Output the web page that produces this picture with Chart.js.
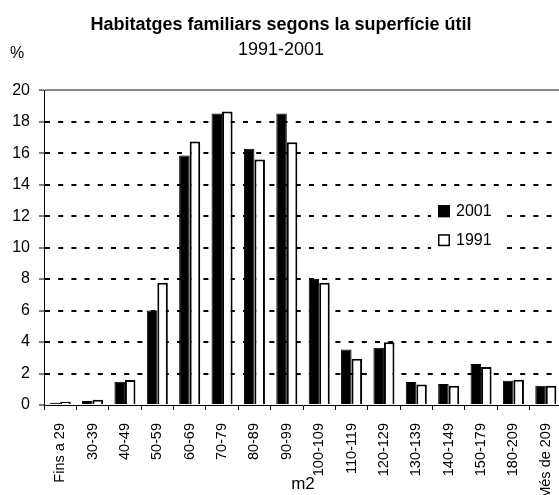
<!DOCTYPE html>
<html>
<head>
<meta charset="utf-8">
<title>Habitatges familiars segons la superfície útil</title>
<script src="https://cdn.jsdelivr.net/npm/chart.js@4.4.0/dist/chart.umd.min.js"></script>
<style>
    html, body { margin: 0; padding: 0; background: #fff; overflow: hidden; }
    #wrap { width: 559px; height: 495px; overflow: hidden; }
</style>
</head>
<body>
<div id="wrap"><canvas id="chartSuperficie" width="570" height="495"></canvas></div>
<script>
const FONT = "'Liberation Sans', Arial, sans-serif";

// Trams de superfície útil (m2)
const labels = [
    "Fins a 29", "30-39", "40-49", "50-59", "60-69", "70-79", "80-89", "90-99",
    "100-109", "110-119", "120-129", "130-139", "140-149", "150-179", "180-209", "Més de 209"
];

// Percentatge d'habitatges per tram
const data2001 = [0.15, 0.25, 1.48, 6.0, 15.85, 18.52, 16.28, 18.52, 8.0, 3.53, 3.64, 1.46, 1.33, 2.6, 1.54, 1.23];
const data1991 = [0.2, 0.33, 1.59, 7.77, 16.74, 18.65, 15.6, 16.7, 7.77, 2.94, 3.98, 1.31, 1.23, 2.41, 1.61, 1.23];

// Eix Y
const yMin = 0;
const yMax = 20;
const yStep = 2;

// Llegenda dins l'àrea del gràfic, amb fons blanc que talla la graella
const legendInside = {
    id: "legendInside",
    afterDraw(chart) {
        const { ctx, chartArea } = chart;
        const x = chartArea.right - 124;
        const y0 = chartArea.top + 115;
        ctx.save();
        ctx.fillStyle = "#fff";
        ctx.fillRect(x - 7, y0 - 7, 74, 56);
        chart.data.datasets.forEach((ds, i) => {
            const y = y0 + i * 29;
            ctx.fillStyle = ds.backgroundColor;
            ctx.fillRect(x, y, 12, 12);
            ctx.strokeStyle = "#000";
            ctx.lineWidth = 1.5;
            ctx.strokeRect(x + 0.75, y + 0.75, 10.5, 10.5);
            ctx.fillStyle = "#000";
            ctx.font = "16px " + FONT;
            ctx.textBaseline = "middle";
            ctx.textAlign = "left";
            ctx.fillText(ds.label, x + 18, y + 6);
        });
        // unitat de l'eix Y
        ctx.fillText("%", 10, 54);
        ctx.restore();
    }
};

new Chart(document.getElementById("chartSuperficie"), {
    type: "bar",
    data: {
        labels,
        datasets: [
            { label: "2001", data: data2001, backgroundColor: "#000", borderColor: "#000", borderWidth: 1 },
            { label: "1991", data: data1991, backgroundColor: "#fff", borderColor: "#000", borderWidth: 2 }
        ]
    },
    options: {
        responsive: false,
        animation: false,
        layout: { padding: { left: 0, right: 8, top: 0, bottom: 0 } },
        datasets: { bar: { categoryPercentage: 0.65, barPercentage: 1 } },
        plugins: {
            legend: { display: false },
            tooltip: { enabled: false },
            title: {
                display: true,
                text: "Habitatges familiars segons la superfície útil",
                color: "#000",
                font: { family: FONT, size: 18, weight: "bold" },
                padding: { top: 14, bottom: 0 }
            },
            subtitle: {
                display: true,
                text: "1991-2001",
                color: "#000",
                font: { family: FONT, size: 18 },
                padding: { top: 4, bottom: 29 }
            }
        },
        scales: {
            x: {
                grid: { drawOnChartArea: false, drawTicks: true, tickLength: 5, color: "#000", tickColor: "#000", lineWidth: 1 },
                border: { color: "#000", width: 1 },
                ticks: {
                    color: "#000",
                    font: { family: FONT, size: 14.5 },
                    minRotation: 90,
                    maxRotation: 90,
                    autoSkip: false,
                    padding: 13
                },
                title: {
                    display: true,
                    text: "m2",
                    color: "#000",
                    font: { family: FONT, size: 17 },
                    padding: { top: 0, bottom: 0 }
                },
                afterFit(scale) {
                    scale.height = 90;
                    scale.paddingLeft = 0;
                    scale.paddingRight = 0;
                }
            },
            y: {
                min: yMin,
                max: yMax,
                ticks: { stepSize: yStep, color: "#000", font: { family: FONT, size: 16 }, padding: 9 },
                grid: {
                    color: ctx => {
                        if (!ctx.tick) return "#000";
                        if (ctx.tick.value === yMax) return "#888";
                        if (ctx.tick.value === yMin) return "rgba(0,0,0,0)";
                        return "#000";
                    },
                    lineWidth: 2,
                    tickLength: 5,
                    tickWidth: 1,
                    tickColor: "#000",
                    tickBorderDash: []
                },
                border: {
                    color: "#000",
                    width: 1,
                    dash: ctx => (ctx.tick && ctx.tick.value === yMax) ? [] : [5, 8.2]
                },
                afterFit(scale) { scale.width = 44; }
            }
        }
    },
    plugins: [legendInside]
});
</script>
</body>
</html>
